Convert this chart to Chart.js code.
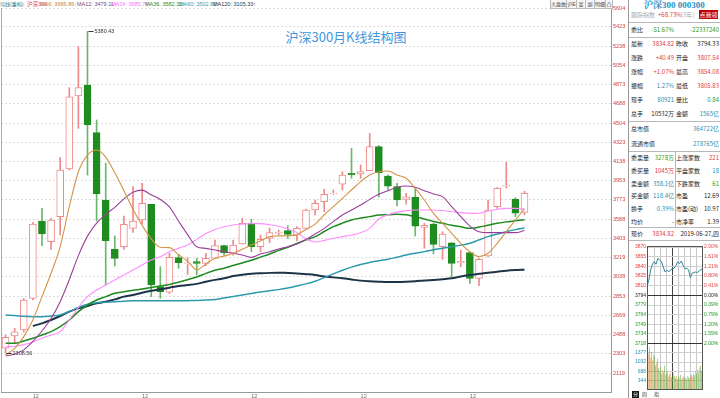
<!DOCTYPE html>
<html>
<head>
<meta charset="utf-8">
<script src="https://cdn.jsdelivr.net/npm/chart.js@4.4.0/dist/chart.umd.min.js"></script>
<style>
  body { margin: 0; width: 720px; height: 398px; overflow: hidden; background: #fff; position: relative;
         font-family: "Liberation Sans", "Noto Sans CJK SC", sans-serif; }
  canvas { position: absolute; }
  #kChart { left: 0; top: 0; }
  #miniChart { left: 629px; top: 238px; }
  .abs { position: absolute; white-space: nowrap; }
  #legend span { position: absolute; top: 1px; font-size: 5.5px; line-height: 7px; white-space: nowrap; }
  #title { left: 0; width: 692px; top: 27px; text-align: center; font-size: 13px; color: #3f97dc;
           font-family: "Noto Sans CJK SC", sans-serif; }
  .btn { position: absolute; top: 0; height: 8px; font-size: 5px; line-height: 8px; color: #444;
         border: 1px solid #bbb; border-top: 0; text-align: center; background: #f6f6f6; overflow: hidden; }
  .hline { position: absolute; height: 0; border-top: 1px solid #b8b8b8; }
  .vline { position: absolute; width: 0; border-left: 1px solid #b8b8b8; }
  .row { position: absolute; left: 629px; width: 91px; height: 8px; font-size: 6px; line-height: 8px;
         font-family: "Noto Sans CJK SC", sans-serif; color: #222; }
  .row span { position: absolute; top: 0; white-space: nowrap; }
</style>
</head>
<body>
<div id="legend"></div>
<div id="title" class="abs">沪深300月K线结构图</div>
<canvas id="kChart" width="628" height="398"></canvas>
<canvas id="miniChart" width="91" height="160"></canvas>
<div id="panel"></div>

<script>
// 月K线数据 (2014-09 ~ 2019-06)
const OPEN  = [2355, 2472, 2530, 2832, 3570, 3373, 3611, 4067, 4764, 4869,
               4414, 3771, 3300, 3325, 3500, 3580, 3730, 2943, 2890, 3220,
               3165, 3182, 3166, 3214, 3335, 3262, 3351, 3548, 3325, 3405,
               3455, 3478, 3437, 3500, 3675, 3755, 3830, 3923, 4025, 4019,
               4050, 4280, 4000, 3898, 3777, 3796, 3510, 3542, 3325, 3363,
               3170, 3268, 3023, 3236, 3707, 3905, 3780, 3653];
const HIGH  = [2480, 2546, 2830, 3555, 3692, 3596, 4175, 4843, 5235, 5380.43,
               4535, 4121, 3427, 3618, 3898, 3930, 3730, 3134, 3262, 3245,
               3220, 3215, 3262, 3389, 3340, 3389, 3596, 3586, 3436, 3503,
               3484, 3525, 3516, 3685, 3770, 3872, 3866, 4041, 4264, 4105,
               4407, 4290, 4010, 3930, 3834, 3892, 3548, 3548, 3468, 3363,
               3293, 3278, 3214, 3771, 3890, 4130, 3793, 3854];
const LOW   = [2308.56, 2403, 2510, 2816, 3335, 3300, 3437, 4057, 4455, 4009,
               3570, 2959, 3141, 3300, 3462, 3542, 2848, 2832, 2880, 3119,
               3060, 3055, 3143, 3214, 3243, 3243, 3351, 3278, 3278, 3364,
               3440, 3405, 3380, 3500, 3628, 3660, 3825, 3866, 3978, 3978,
               4050, 3800, 3866, 3714, 3732, 3427, 3310, 3256, 3205, 3039,
               3134, 2975, 2954, 3230, 3690, 3885, 3612, 3630];
const CLOSE = [2460, 2513, 2816, 3542, 3446, 3580, 4057, 4757, 4843, 4487,
               3828, 3382, 3214, 3539, 3570, 3739, 2959, 2895, 3224, 3172,
               3170, 3166, 3214, 3335, 3268, 3341, 3548, 3325, 3395, 3459,
               3462, 3443, 3500, 3675, 3739, 3825, 3837, 4009, 4012, 4041,
               4280, 4031, 3904, 3771, 3802, 3522, 3529, 3347, 3446, 3166,
               3185, 3023, 3205, 3675, 3882, 3914, 3644, 3834.82];

// 均线
const MA6   = [2291, 2354, 2466, 2625, 2848, 3071, 3325, 3707, 4041, 4200,
               4248, 4180, 4030, 3860, 3680, 3530, 3400, 3320, 3316, 3250,
               3185, 3105, 3160, 3214, 3235, 3260, 3300, 3341, 3380, 3421,
               3428, 3430, 3440, 3490, 3540, 3630, 3707, 3787, 3866, 3946,
               4010, 4041, 4048, 4010, 3978, 3882, 3771, 3643, 3548, 3453,
               3357, 3277, 3230, 3262, 3357, 3468, 3580, 3686.86];
const MA12  = [2281, 2300, 2340, 2420, 2520, 2640, 2800, 3010, 3240, 3426,
               3550, 3634, 3700, 3782, 3845, 3865, 3820, 3775, 3705, 3570,
               3440, 3325, 3309, 3293, 3277, 3262, 3246, 3223, 3255, 3277,
               3303, 3325, 3351, 3395, 3446, 3500, 3564, 3628, 3675, 3723,
               3777, 3825, 3860, 3892, 3904, 3892, 3860, 3828, 3803, 3707,
               3612, 3522, 3468, 3459, 3459, 3459, 3459, 3479.11];
const MA24  = [2370, 2375, 2390, 2415, 2450, 2482, 2514, 2625, 2746, 2848,
               2911, 2959, 3007, 3055, 3102, 3150, 3198, 3230, 3277, 3309,
               3341, 3395, 3450, 3490, 3515, 3532, 3540, 3545, 3545, 3535,
               3520, 3495, 3460, 3400, 3370, 3385, 3405, 3421, 3437, 3459,
               3500, 3590, 3630, 3655, 3669, 3675, 3675, 3675, 3670, 3659,
               3650, 3643, 3645, 3666, 3682, 3691, 3691, 3685.74];
const MA36  = [2402, 2402, 2424, 2450, 2482, 2514, 2561, 2625, 2705, 2768,
               2816, 2848, 2880, 2895, 2910, 2920, 2935, 2950, 2965, 2985,
               3010, 3035, 3070, 3100, 3120, 3145, 3170, 3195, 3225, 3255,
               3290, 3320, 3355, 3390, 3421, 3470, 3516, 3550, 3580, 3598,
               3612, 3628, 3630, 3634, 3630, 3610, 3590, 3565, 3548, 3530,
               3515, 3500, 3512, 3530, 3548, 3562, 3572, 3582.32];
const MA60  = [2673, 2667, 2660, 2657, 2657, 2663, 2673, 2705, 2745, 2775,
               2790, 2795, 2800, 2805, 2808, 2810, 2810, 2808, 2808, 2808,
               2810, 2812, 2815, 2820, 2835, 2850, 2864, 2878, 2893, 2905,
               2915, 2930, 2950, 2970, 2995, 3030, 3065, 3100, 3130, 3155,
               3175, 3190, 3205, 3225, 3245, 3262, 3278, 3295, 3310, 3325,
               3340, 3357, 3390, 3421, 3445, 3468, 3488, 3502.82];
const MA120 = [null, null, null, 2568, 2593, 2625, 2663, 2705, 2736, 2759,
               2784, 2800, 2822, 2848, 2864, 2886, 2905, 2918, 2934, 2950,
               2959, 2970, 2990, 3008, 3023, 3045, 3058, 3066, 3071, 3075,
               3077, 3074, 3070, 3063, 3055, 3040, 3032, 3023, 3012, 3001,
               2995, 2991, 2988, 2988, 2990, 2995, 3003, 3008, 3015, 3023,
               3040, 3055, 3066, 3077, 3086, 3096, 3102, 3105.33];

const Y_TICKS = [5604, 5423, 5238, 5054, 4873, 4688, 4504, 4323, 4138, 3953,
                 3773, 3588, 3403, 3219, 3038, 2853, 2669, 2488, 2303, 2119];
const EMPTY_SLOTS = 9;

// 分时数据
const INTRADAY = [3808, 3818, 3834, 3843, 3847, 3843, 3852, 3850, 3847, 3839,
                  3831, 3834, 3831, 3834, 3836, 3837, 3841, 3847, 3844, 3848,
                  3841, 3836, 3837, 3834, 3822, 3829, 3830, 3831, 3830, 3833,
                  3835, 3834.82];
const VOLUME = [1500, 1350, 1600, 1200, 1400, 1100, 1300, 1250, 900, 1000, 1150, 800,
                700, 850, 600, 750, 650, 900, 560, 620, 700, 500, 580, 650, 480, 540, 600, 520,
                450, 520, 400, 480, 430, 560, 380, 450, 500, 420, 460, 400, 520, 470, 430,
                500, 560, 480, 620, 540, 700, 600, 760, 650, 820, 900, 700, 1235];
const VOL_UP = [1, 1, 0, 1, 0, 1, 1, 0, 0, 1, 0, 0,
                1, 0, 0, 1, 0, 0, 1, 0, 0, 1, 0, 1, 0, 0, 1, 0,
                0, 1, 0, 0, 1, 0, 0, 1, 0, 0, 1, 0, 1, 0, 0,
                1, 0, 1, 0, 0, 1, 0, 1, 0, 1, 0, 0, 1];
const MINI_TICKS = [3870, 3855, 3840, 3825, 3810, 3794, 3779, 3764, 3749, 3734, 3718];
const MINI_PCT = ['2.00%', '1.61%', '1.21%', '0.80%', '0.41%', '0.00%',
                  '0.39%', '0.79%', '1.20%', '1.59%', '2.00%'];
const PREV_CLOSE = 3794;
const VOL_TICKS = [1377, 1032, 688, 344];

const MA_LINES = [
  { name: 'MA6',   data: MA6,   color: '#d39446', width: 1.1 },
  { name: 'MA12',  data: MA12,  color: '#9b3f9b', width: 1.1 },
  { name: 'MA24',  data: MA24,  color: '#ff8cff', width: 1.1 },
  { name: 'MA36',  data: MA36,  color: '#1f8a1f', width: 1.5 },
  { name: 'MA60',  data: MA60,  color: '#2d9aab', width: 1.5 },
  { name: 'MA120', data: MA120, color: '#1d3448', width: 2 }
];

const RED = '#e03c3c', GREEN = '#1f9a1f', TEAL = '#2a8fb0';

// 顶部均线说明
(function buildLegend() {
  const lg = document.getElementById('legend');
  const items = [['均线(重构)', '#2c7d8c', 0], ['沪深300', '#e0457a', 27]];
  const lefts = [40, 77, 111, 145, 179, 213];
  const textCols = ['#c8863a', '#7a4a7a', '#ff70ff', '#2a8a2a', '#3a9aaa', '#2a3a4a'];
  MA_LINES.forEach((m, i) => {
    items.push([m.name + ': ' + m.data[m.data.length - 1].toFixed(2) + '↑', textCols[i], lefts[i]]);
  });
  items.forEach(([t, c, x]) => {
    const s = document.createElement('span');
    s.textContent = t; s.style.color = c; s.style.left = x + 'px';
    if (x === 0) s.style.fontSize = '5px';
    lg.appendChild(s);
  });
  const btns = [['大盘曲线', 550, 15], ['沪E', 566, 9], ['富', 576, 8], ['副', 585, 8], ['明细', 594, 10], ['凸', 605, 6]];
  btns.forEach(([t, x, w]) => {
    const b = document.createElement('div');
    b.className = 'btn'; b.textContent = t;
    b.style.left = x + 'px'; b.style.width = w + 'px';
    document.body.appendChild(b);
  });
})();

// 月份标签
const MONTHS = OPEN.map((_, i) => {
  const m = 9 + i;
  const y = 2014 + Math.floor((m - 1) / 12);
  const mm = ((m - 1) % 12) + 1;
  return y + '-' + String(mm).padStart(2, '0');
});
const SLOTS = MONTHS.concat(Array(EMPTY_SLOTS).fill(''));

const isUp = OPEN.map((o, i) => CLOSE[i] >= o);

// 最高/最低标注
const hiLoPlugin = {
  id: 'hiLo',
  afterDatasetsDraw(chart) {
    const { ctx, scales: { x, y } } = chart;
    const hiIdx = HIGH.indexOf(Math.max(...HIGH));
    const loIdx = LOW.indexOf(Math.min(...LOW));
    ctx.save();
    ctx.font = '5.5px "Liberation Sans"';
    ctx.fillStyle = '#333';
    ctx.strokeStyle = '#333';
    ctx.lineWidth = 1;
    ctx.textBaseline = 'middle';
    [[hiIdx, HIGH[hiIdx]], [loIdx, LOW[loIdx]]].forEach(([i, v]) => {
      const px = x.getPixelForValue(i) + 1;
      const py = Math.round(y.getPixelForValue(v)) + 0.5;
      ctx.beginPath();
      ctx.moveTo(px, py);
      ctx.lineTo(px + 5, py);
      ctx.stroke();
      ctx.fillText(v.toFixed(2), px + 6, py);
    });
    ctx.restore();
  }
};

const kCtx = document.getElementById('kChart').getContext('2d');
new Chart(kCtx, {
  type: 'bar',
  data: {
    labels: SLOTS,
    datasets: [
      ...MA_LINES.map(m => ({
        type: 'line',
        label: m.name,
        data: m.data,
        borderColor: m.color,
        borderWidth: m.width,
        pointRadius: 0,
        cubicInterpolationMode: 'monotone',
        order: 0
      })),
      {
        label: 'body',
        data: OPEN.map((o, i) => [Math.min(o, CLOSE[i]), Math.max(o, CLOSE[i])]),
        backgroundColor: isUp.map(u => u ? '#ffffff' : '#1f8c1f'),
        borderColor: isUp.map(u => u ? '#ef8c8c' : '#1f8c1f'),
        borderWidth: 1,
        borderSkipped: false,
        barThickness: 7,
        order: 1
      },
      {
        label: 'wick',
        data: LOW.map((l, i) => [l, HIGH[i]]),
        backgroundColor: isUp.map(u => u ? '#ee8a8a' : '#6ab66a'),
        barThickness: 1,
        order: 2
      }
    ]
  },
  options: {
    responsive: false,
    animation: false,
    events: [],
    datasets: { bar: { grouped: false } },
    layout: { padding: { top: 6, left: 1, right: 0, bottom: 0 } },
    plugins: { legend: { display: false }, tooltip: { enabled: false } },
    scales: {
      x: {
        offset: true,
        grid: { display: false, drawTicks: false },
        border: { display: true, color: '#999' },
        ticks: {
          autoSkip: false, maxRotation: 0, minRotation: 0, padding: 1, labelOffset: 3,
          font: { size: 5.5 }, color: '#666',
          callback: (v, i) => (MONTHS[i] && MONTHS[i].endsWith('-12')) ? '12' : ''
        },
        afterFit: s => { s.height = 6; }
      },
      y: {
        position: 'right',
        min: 1937.6,
        max: 5623.1,
        afterBuildTicks: s => { s.ticks = Y_TICKS.map(v => ({ value: v })); },
        afterFit: s => { s.width = 17; },
        ticks: { color: '#d23c3c', font: { size: 5.5 }, padding: 2, callback: v => v },
        grid: { color: '#dcdcdc', drawTicks: false },
        border: { display: false, dash: [2, 2] }
      }
    }
  },
  plugins: [hiLoPlugin]
});

// 分时小图
const miniFrame = {
  id: 'miniFrame',
  afterDraw(chart) {
    const { ctx, chartArea: a, scales: { yv } } = chart;
    ctx.save();
    ctx.strokeStyle = '#555';
    ctx.lineWidth = 1;
    ctx.strokeRect(a.left + 0.5, a.top + 0.5, a.right - a.left - 1, a.bottom - a.top - 1);
    ctx.font = '5px "Liberation Sans"';
    ctx.fillStyle = TEAL;
    ctx.textAlign = 'right';
    ctx.textBaseline = 'middle';
    VOL_TICKS.forEach(v => ctx.fillText(String(v), a.left - 1, yv.getPixelForValue(v)));
    ctx.restore();
  }
};
const tickCol = c => c.tick.value > PREV_CLOSE ? RED : (c.tick.value === PREV_CLOSE ? '#222' : GREEN);
const miniCtx = document.getElementById('miniChart').getContext('2d');
new Chart(miniCtx, {
  type: 'bar',
  data: {
    labels: VOLUME.map((_, i) => i),
    datasets: [
      {
        type: 'line',
        data: INTRADAY,
        xAxisID: 'xp',
        yAxisID: 'y',
        borderColor: '#2a8a9a',
        borderWidth: 1,
        pointRadius: 0,
        order: 0
      },
      {
        data: VOLUME,
        xAxisID: 'x',
        yAxisID: 'yv',
        backgroundColor: VOL_UP.map(u => u ? '#d08a22' : '#4a9a12'),
        barPercentage: 0.9,
        categoryPercentage: 1,
        order: 1
      }
    ]
  },
  options: {
    responsive: false,
    animation: false,
    events: [],
    layout: { padding: { top: 8, bottom: 8, left: 0, right: 0 } },
    plugins: { legend: { display: false }, tooltip: { enabled: false } },
    scales: {
      x: { display: false, offset: true },
      xp: { type: 'category', labels: INTRADAY.map((_, i) => i), display: false, offset: false },
      xg: {
        type: 'linear', min: 0, max: 8, position: 'bottom',
        afterBuildTicks: s => { s.ticks = [1, 2, 3, 4, 5, 6, 7].map(v => ({ value: v })); },
        ticks: { display: false },
        grid: { color: c => c.tick && c.tick.value === 4 ? '#444' : '#c8c8c8', drawTicks: false },
        border: { display: false },
        afterFit: s => { s.height = 0; }
      },
      y: {
        position: 'left', min: 3645.9, max: 3871.6,
        afterBuildTicks: s => { s.ticks = MINI_TICKS.map(v => ({ value: v })); },
        afterFit: s => { s.width = 18; },
        ticks: { font: { size: 5 }, padding: 1, color: tickCol, callback: v => v },
        grid: {
          drawTicks: false,
          color: c => (c.tick && (c.tick.value === PREV_CLOSE || c.tick.value === 3718)) ? '#333' : '#cfcfcf'
        },
        border: { display: false }
      },
      yp: {
        position: 'right', min: 3645.9, max: 3871.6,
        afterBuildTicks: s => { s.ticks = MINI_TICKS.map(v => ({ value: v })); },
        afterFit: s => { s.width = 17; },
        ticks: { font: { size: 5 }, padding: 1, color: tickCol, callback: (v, i) => MINI_PCT[i] },
        grid: { drawOnChartArea: false, drawTicks: false },
        border: { display: false }
      },
      yv: {
        position: 'left', min: 0, max: 5316,
        afterBuildTicks: s => { s.ticks = VOL_TICKS.map(v => ({ value: v })); },
        afterFit: s => { s.width = 0; },
        ticks: { display: false },
        grid: { color: '#cfcfcf', drawTicks: false },
        border: { display: false }
      }
    }
  },
  plugins: [miniFrame]
});

// 右侧行情面板
const PANEL_ROWS = [
  [30,  '委比', '-51.67%', GREEN, '', '-22337240', GREEN],
  [44,  '最新', '3834.82', RED, '昨收', '3794.33', '#222'],
  [58,  '涨跌', '+40.49', RED, '开盘', '3807.54', RED],
  [72,  '涨幅', '+1.07%', RED, '最高', '3854.08', RED],
  [86,  '振幅', '1.27%', TEAL, '最低', '3805.83', RED],
  [100, '现手', '80921', TEAL, '量比', '0.84', GREEN],
  [114, '总手', '10532万', '#222', '金额', '1565亿', TEAL],
  [129, '总市值', '', '', '', '364722亿', TEAL],
  [144, '流通市值', '', '', '', '278765亿', TEAL],
  [158, '委卖量', '3278万', GREEN, '上涨家数', '221', RED],
  [171, '委买量', '1045万', RED, '平盘家数', '18', TEAL],
  [184, '卖金额', '358.1亿', TEAL, '下跌家数', '61', GREEN],
  [196, '买金额', '118.4亿', TEAL, '市盈', '12.69', '#222'],
  [209, '换手', '0.39%', TEAL, '市盈(动)', '10.97', '#222'],
  [222, '均价', '-', '#222', '市净率', '1.39', '#222'],
  [234, '现价', '3834.82', RED, '', '2019-06-27,四', '#222']
];
(function buildPanel() {
  const p = document.getElementById('panel');
  let html = '';
  html += '<div class="abs" style="left:629px;width:91px;top:0;text-align:center;font:bold 9px/11px \'Liberation Serif\',\'Noto Serif CJK SC\',serif;color:#2a8cc4">沪深300 000300</div>';
  html += '<div class="row" style="top:11px"><span style="left:2px;color:#aaa">跟踪指数</span>' +
          '<span style="left:29px;color:' + RED + '">+68.73%</span><span style="left:52px;color:#aaa">[3年]</span>' +
          '<span style="left:70px;width:19px;height:9px;top:-1px;background:#c00000;color:#fff;text-align:center;line-height:9px">点我领</span></div>';
  PANEL_ROWS.forEach(([y, l1, v1, c1, l2, v2, c2]) => {
    html += '<div class="row" style="top:' + (y - 4) + 'px">' +
      '<span style="left:2px">' + l1 + '</span>' +
      '<span style="right:46px;color:' + c1 + '">' + v1 + '</span>' +
      '<span style="left:47px">' + l2 + '</span>' +
      '<span style="right:1px;color:' + c2 + '">' + v2 + '</span></div>';
  });
  [22, 37, 121, 151, 227, 240].forEach(y => {
    html += '<div class="hline" style="left:629px;width:91px;top:' + y + 'px"></div>';
  });
  html += '<div class="vline" style="left:675px;top:151px;height:76px"></div>';
  html += '<div class="vline" style="left:628px;top:0;height:398px;border-color:#999"></div>';
  html += '<div class="vline" style="left:611px;top:0;height:392px;border-color:#999"></div>';
  html += '<div class="vline" style="left:1px;top:8px;height:384px;border-color:#aaa"></div>';
  html += '<div class="abs" style="left:632px;top:391px;width:7px;height:7px;background:#111;color:#fff;font-size:5px;line-height:7px;text-align:center">分</div>';
  html += '<div class="abs" style="left:642px;top:391px;font-size:5px;line-height:7px;color:#333">周</div>';
  html += '<div class="abs" style="left:654px;top:391px;font-size:5px;line-height:7px;color:#333">指</div>';
  p.innerHTML = html;
})();
</script>
</body>
</html>
